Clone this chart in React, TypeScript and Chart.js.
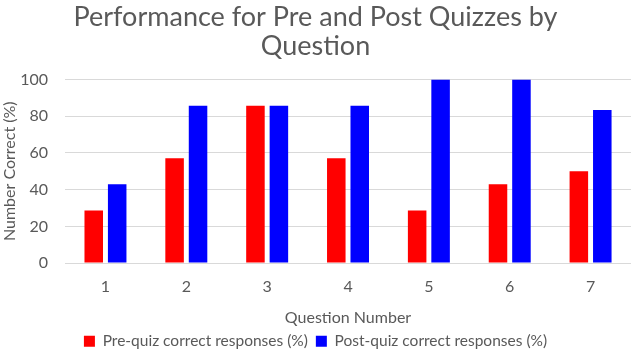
import React, { useEffect, useRef } from "react";
import { Chart, registerables } from "chart.js";

Chart.register(...registerables);

const categories = ["1", "2", "3", "4", "5", "6", "7"];
const preQuiz = [28.6, 57.1, 85.7, 57.1, 28.6, 42.9, 50];
const postQuiz = [42.9, 85.7, 85.7, 85.7, 100, 100, 83.3];
const seriesNames = ["Pre-quiz correct responses (%)", "Post-quiz correct responses (%)"];
const titleLines = ["Performance for Pre and Post Quizzes by", "Question"];
const yTitle = "Number Correct (%)";
const xTitle = "Question Number";

const FONT = "Lato, 'Open Sans', sans-serif";
const GRAY = "#595959";

export default function App() {
  const ref = useRef<HTMLCanvasElement>(null);
  useEffect(() => {
    if (!ref.current) return;
    const chart = new Chart(ref.current, {
      type: "bar",
      data: {
        labels: categories,
        datasets: [
          { label: seriesNames[0], data: preQuiz, backgroundColor: "#ff0000", categoryPercentage: 0.58, barPercentage: 0.79 },
          { label: seriesNames[1], data: postQuiz, backgroundColor: "#0000ff", categoryPercentage: 0.58, barPercentage: 0.79 },
        ],
      },
      options: {
        animation: false,
        responsive: true,
        maintainAspectRatio: false,
        layout: { padding: { left: 0, right: 1, top: 2, bottom: -9 } },
        plugins: {
          title: {
            display: true,
            text: titleLines,
            color: GRAY,
            font: { family: FONT, size: 27, weight: "normal", lineHeight: 1.1 },
            padding: { top: 0, bottom: 18 },
          },
          legend: {
            position: "bottom",
            labels: {
              color: GRAY,
              font: { family: FONT, size: 15.5 },
              boxWidth: 11,
              boxHeight: 11,
              padding: 8,
            },
          },
          tooltip: { enabled: false },
        },
        scales: {
          x: {
            grid: { display: false, drawTicks: false },
            border: { display: false },
            ticks: { color: GRAY, font: { family: FONT, size: 16 }, padding: 14 },
            title: { display: true, text: xTitle, color: GRAY, font: { family: FONT, size: 16 }, padding: { top: -2, bottom: -2 } },
          },
          y: {
            min: 0,
            max: 100,
            ticks: { stepSize: 20, color: GRAY, font: { family: FONT, size: 16 }, padding: 17 },
            grid: { color: "#d9d9d9", drawTicks: false },
            border: { display: false },
            title: { display: true, text: yTitle, color: GRAY, font: { family: FONT, size: 16 }, padding: { top: 0, bottom: -16 } },
          },
        },
      },
    });
    return () => chart.destroy();
  }, []);
  return (
    <div style={{ position: "absolute", left: 0, top: 0, width: 632, height: 350 }}>
      <canvas ref={ref} />
    </div>
  );
}
